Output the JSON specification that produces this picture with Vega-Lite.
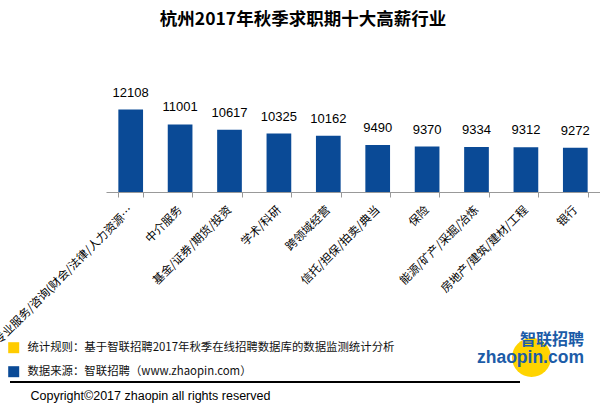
{
  "$schema": "https://vega.github.io/schema/vega-lite/v6.json",
  "width": 494,
  "height": 108,
  "autosize": {"type": "none"},
  "padding": {"left": 106, "top": 84, "right": 0, "bottom": 218},
  "background": "white",
  "title": {
    "text": "杭州2017年秋季求职期十大高薪行业",
    "font": "Noto Sans CJK SC",
    "fontSize": 17.5,
    "fontWeight": "bold",
    "color": "#000",
    "anchor": "middle",
    "dx": -50,
    "offset": 56
  },
  "data": {
    "values": [
      {"industry": "专业服务/咨询(财会/法律/人力资源/认证)", "salary": 12108},
      {"industry": "中介服务", "salary": 11001},
      {"industry": "基金/证券/期货/投资", "salary": 10617},
      {"industry": "学术/科研", "salary": 10325},
      {"industry": "跨领域经营", "salary": 10162},
      {"industry": "信托/担保/拍卖/典当", "salary": 9490},
      {"industry": "保险", "salary": 9370},
      {"industry": "能源/矿产/采掘/冶炼", "salary": 9334},
      {"industry": "房地产/建筑/建材/工程", "salary": 9312},
      {"industry": "银行", "salary": 9272}
    ]
  },
  "encoding": {
    "x": {
      "field": "industry",
      "type": "nominal",
      "sort": null,
      "scale": {"paddingInner": 0.5, "paddingOuter": 0.25},
      "axis": {
        "title": "Copyright©2017 zhaopin all rights reserved",
        "titleFont": "Liberation Sans",
        "titleFontSize": 12.5,
        "titleFontWeight": "normal",
        "titleColor": "#000",
        "titleX": -76,
        "titleY": 203,
        "titleAlign": "left",
        "titleAnchor": "start",
        "titleBaseline": "middle",
        "labelAngle": -45,
        "labelAlign": "right",
        "labelBaseline": "middle",
        "labelFont": "Noto Sans CJK SC",
        "labelFontSize": 11.5,
        "labelColor": "#000",
        "labelLimit": 191.5,
        "labelPadding": 11,
        "labelOverlap": false,
        "tickBand": "extent",
        "tickSize": 5,
        "tickColor": "#999",
        "domainColor": "#999"
      }
    },
    "y": {
      "field": "salary",
      "type": "quantitative",
      "scale": {"domain": [6000, 14000], "zero": false, "nice": false},
      "axis": null
    }
  },
  "layer": [
    {
      "mark": {"type": "bar", "clip": true},
      "encoding": {
        "color": {
          "datum": "数据来源：智联招聘（www.zhaopin.com）",
          "type": "nominal",
          "scale": {
            "domain": ["统计规则：基于智联招聘2017年秋季在线招聘数据库的数据监测统计分析", "数据来源：智联招聘（www.zhaopin.com）"],
            "range": ["#FFCC00", "#0A4A96"]
          },
          "legend": {
            "orient": "none",
            "legendX": -98,
            "legendY": 258,
            "direction": "vertical",
            "title": null,
            "symbolType": "square",
            "symbolSize": 121,
            "symbolStrokeWidth": 0,
            "labelFont": "Noto Sans CJK SC",
            "labelFontSize": 11.4,
            "labelColor": "#111",
            "labelOffset": 8,
            "labelLimit": 600,
            "rowPadding": 11,
            "padding": 0
          }
        }
      }
    },
    {
      "mark": {"type": "text", "font": "Liberation Sans", "fontSize": 13, "color": "#000", "baseline": "alphabetic", "dy": -13},
      "encoding": {"text": {"field": "salary", "type": "quantitative", "format": "d"}}
    },
    {
      "transform": [{"filter": "false"}],
      "mark": {"type": "point", "filled": true, "color": "#FFD400", "opacity": 1},
      "encoding": {
        "shape": {
          "datum": "zhaopin.com",
          "type": "nominal",
          "scale": {"range": ["circle"]},
          "legend": {
            "orient": "none",
            "legendX": 406,
            "legendY": 248,
            "title": "智联招聘",
            "titleFont": "Noto Sans CJK SC",
            "titleFontSize": 16,
            "titleFontWeight": "bold",
            "titleColor": "#1C5CA8",
            "titleAnchor": "end",
            "titlePadding": -10,
            "symbolSize": 1520,
            "symbolFillColor": "#FFD400",
            "symbolStrokeWidth": 0,
            "symbolOpacity": 1,
            "labelFont": "Liberation Sans",
            "labelFontSize": 17.5,
            "labelFontWeight": "bold",
            "labelColor": "#1C5CA8",
            "labelOffset": -74,
            "padding": 0
          }
        }
      }
    },
    {
      "mark": {"type": "point", "opacity": 0},
      "encoding": {
        "fill": {
          "field": "salary",
          "type": "quantitative",
          "scale": {"range": ["#000000", "#000000"]},
          "legend": {
            "orient": "none",
            "legendX": -96,
            "legendY": 297,
            "direction": "horizontal",
            "title": null,
            "gradientLength": 510,
            "gradientThickness": 2,
            "gradientStrokeWidth": 0,
            "labelExpr": "''",
            "labelOpacity": 0,
            "padding": 0
          }
        }
      }
    }
  ],
  "config": {"view": {"stroke": null}}
}
